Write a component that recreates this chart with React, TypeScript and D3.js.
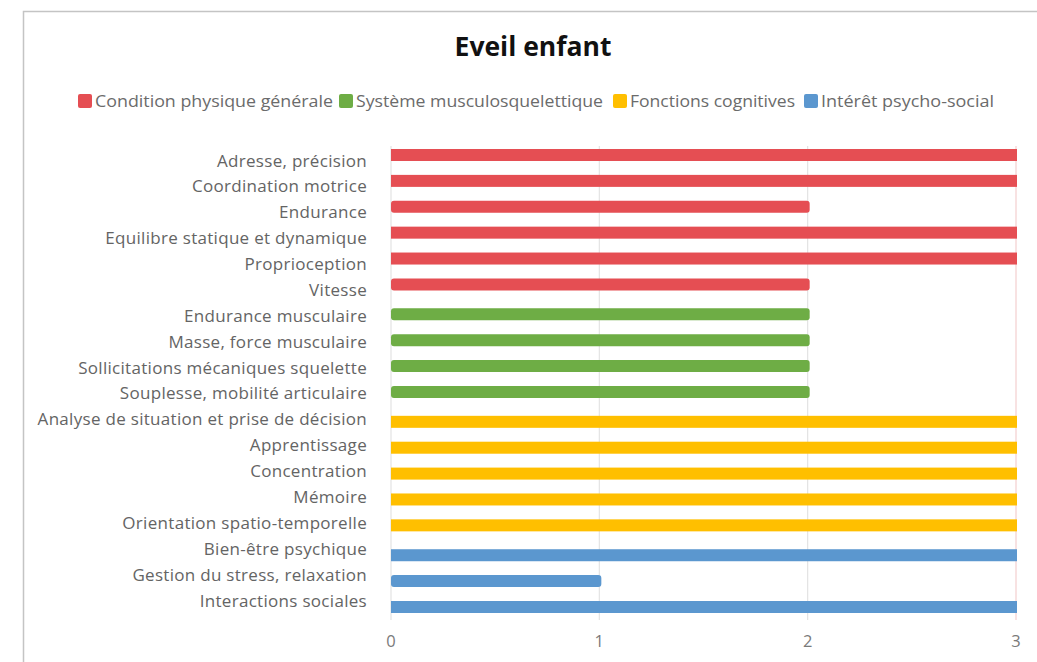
import React from "react";
import * as d3 from "d3";

const categories = [
  "Adresse, précision",
  "Coordination motrice",
  "Endurance",
  "Equilibre statique et dynamique",
  "Proprioception",
  "Vitesse",
  "Endurance musculaire",
  "Masse,  force musculaire",
  "Sollicitations mécaniques squelette",
  "Souplesse, mobilité articulaire",
  "Analyse de situation et prise de décision",
  "Apprentissage",
  "Concentration",
  "Mémoire",
  "Orientation spatio-temporelle",
  "Bien-être psychique",
  "Gestion du stress, relaxation",
  "Interactions sociales",
];

const seriesNames = [
  "Condition physique générale",
  "Système musculosquelettique",
  "Fonctions cognitives",
  "Intérêt psycho-social",
];
const seriesColors = ["#E54E53", "#6EAD45", "#FFBF00", "#5B97CF"];

const conditionValues = [3, 3, 2, 3, 3, 2, null, null, null, null, null, null, null, null, null, null, null, null];
const systemeValues = [null, null, null, null, null, null, 2, 2, 2, 2, null, null, null, null, null, null, null, null];
const cognitivesValues = [null, null, null, null, null, null, null, null, null, null, 3, 3, 3, 3, 3, null, null, null];
const psychoValues = [null, null, null, null, null, null, null, null, null, null, null, null, null, null, null, 3, 1, 3];

const seriesValues = [conditionValues, systemeValues, cognitivesValues, psychoValues];
const xTicks = [0, 1, 2, 3];

export default function App() {
  const font = "'Open Sans', sans-serif";
  const x = d3.scaleLinear().domain([0, 3]).range([391, 1016]);
  const yCat = d3.scalePoint<string>().domain(categories).range([161, 601]);
  const ySer = d3.scalePoint<string>().domain(seriesNames).range([-6, 6]);
  const barH = 12;
  const plotTop = 146;
  const plotBottom = 620;

  const legendX = [78, 339, 613, 804];
  const legendW = [238, 247, 165, 173];

  return (
    <svg
      width={1037}
      height={662}
      style={{ position: "absolute", left: 0, top: 0, background: "#fff" }}
    >
      <rect x={0} y={0} width={1037} height={662} fill="#fff" />
      <rect x={23.5} y={11.5} width={1100} height={700} fill="none" stroke="#c4c4c4" strokeWidth={1.5} />
      <text x={533} y={56} textAnchor="middle" fontFamily={font} fontWeight={700} fontSize={26.5} fill="#111">
        Eveil enfant
      </text>
      {seriesNames.map((s, i) => (
        <g key={s}>
          <rect x={legendX[i]} y={94} width={14} height={14} rx={2} fill={seriesColors[i]} />
          <text
            x={legendX[i] + 17}
            y={107}
            fontFamily={font}
            fontSize={16.5}
            fill="#6b6b6b"
            textLength={legendW[i]}
            lengthAdjust="spacingAndGlyphs"
          >
            {s}
          </text>
        </g>
      ))}
      {xTicks.map((t) => (
        <line
          key={t}
          x1={x(t)}
          x2={x(t)}
          y1={plotTop}
          y2={plotBottom}
          stroke={t === 3 ? "#f3cfcf" : "#e3e3e3"}
          strokeWidth={1.2}
        />
      ))}
      {seriesValues.map((vals, si) =>
        vals.map((v, ci) =>
          v == null ? null : (
            <rect
              key={`${si}-${ci}`}
              x={x(0)}
              y={(yCat(categories[ci]) as number) + (ySer(seriesNames[si]) as number) - barH / 2}
              width={x(v) - x(0) + (v < 3 ? 2 : 1)}
              height={barH}
              rx={v < 3 ? 3 : 0}
              fill={seriesColors[si]}
            />
          )
        )
      )}
      {categories.map((c) => (
        <text
          key={c}
          x={367}
          y={(yCat(c) as number) + 5.5}
          textAnchor="end"
          fontFamily={font}
          fontSize={17}
          letterSpacing={0.3}
          fill="#646464"
        >
          {c}
        </text>
      ))}
      {xTicks.map((t) => (
        <text
          key={t}
          x={x(t)}
          y={647}
          textAnchor="middle"
          fontFamily={font}
          fontSize={16.5}
          fill="#7a7a7a"
        >
          {t}
        </text>
      ))}
    </svg>
  );
}
